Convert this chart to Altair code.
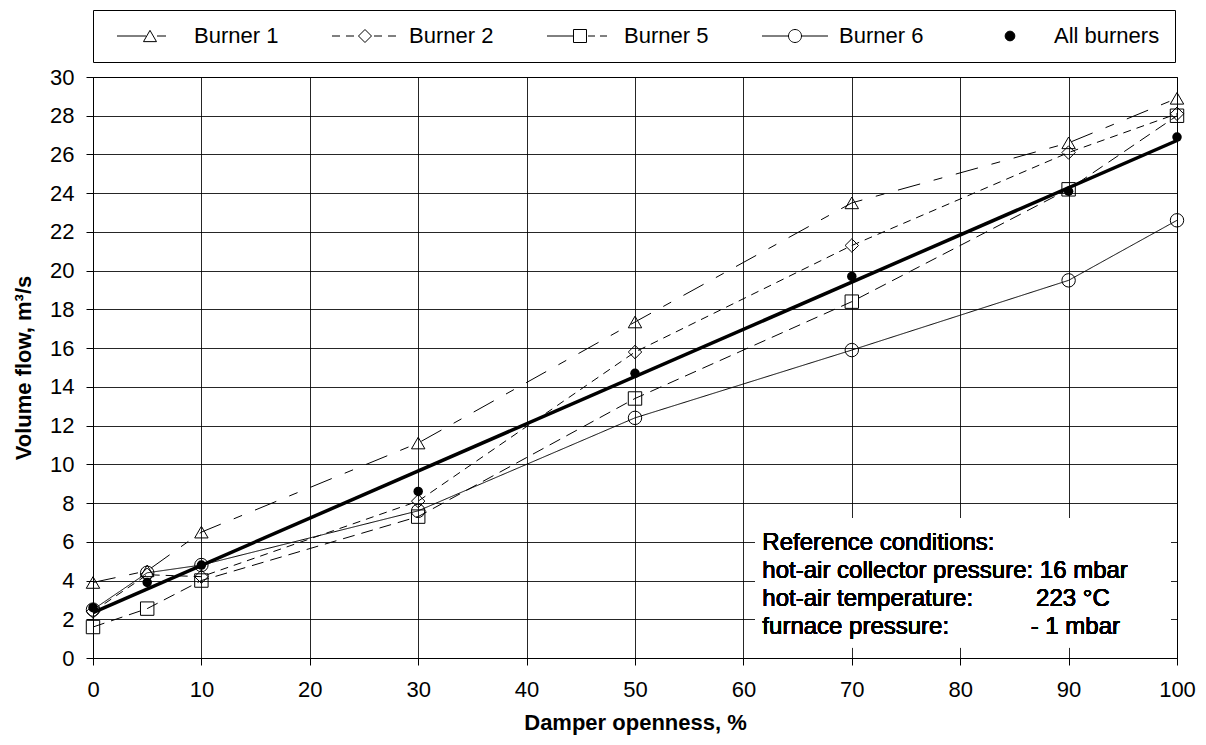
import altair as alt
import pandas as pd
import re

# ---------------- data ----------------
damper = [0, 5, 10, 30, 50, 70, 90, 100]
burner_1 = [3.9, 4.5, 6.5, 11.1, 17.35, 23.5, 26.6, 28.9]
burner_2 = [2.4, 4.3, 4.2, 8.1, 15.8, 21.3, 26.1, 28.1]
burner_5 = [1.6, 2.55, 4.0, 7.3, 13.4, 18.4, 24.2, 28.0]
burner_6 = [2.5, 4.4, 4.8, 7.6, 12.4, 15.9, 19.5, 22.6]
all_burners = [2.6, 3.9, 4.8, 8.6, 14.7, 19.7, 24.1, 26.9]

burner_names = ["Burner 1", "Burner 2", "Burner 5", "Burner 6"]
all_name = "All burners"
series_names = burner_names + [all_name]

x_ticks = list(range(0, 101, 10))
y_ticks = list(range(0, 31, 2))

FONT = "Liberation Sans"
FS = 22

rows = []
for name, vals in zip(burner_names, [burner_1, burner_2, burner_5, burner_6]):
    for d, v in zip(damper, vals):
        rows.append({"series": name, "damper": d, "flow": v})
burners_df = pd.DataFrame(rows)
all_df = pd.DataFrame({"series": all_name, "damper": damper, "flow": all_burners})

# ---------------- styles ----------------
dash_patterns = [[23, 14, 9, 14], [8, 6], [12, 7], [1, 0]]
plot_shapes = ["triangle-up", "diamond", "square", "circle"]

xs = alt.Scale(domain=[0, 100], nice=False, zero=False)
ys = alt.Scale(domain=[0, 30], nice=False, zero=False)

x_axis = alt.Axis(values=x_ticks, tickCount=len(x_ticks), grid=True, gridColor="black", gridOpacity=0.85,
                  domainColor="black", tickColor="black", tickSize=7,
                  labelFontSize=FS, labelFont=FONT, labelColor="black", labelPadding=14,
                  labelFlush=False, labelOverlap=False,
                  title="Damper openness, %", titleFont=FONT, titleFontSize=FS,
                  titleFontWeight="bold", titleColor="black", titlePadding=12)
y_axis = alt.Axis(values=y_ticks, tickCount=len(y_ticks), grid=True, gridColor="black", gridOpacity=0.85,
                  domainColor="black", tickColor="black", tickSize=7,
                  labelFontSize=FS, labelFont=FONT, labelColor="black", labelPadding=12,
                  labelFlush=False, labelOverlap=False,
                  title="Volume flow, m³/s", titleFont=FONT, titleFontSize=FS,
                  titleFontWeight="bold", titleColor="black", titlePadding=14)


def X():
    return alt.X("damper:Q", scale=xs, axis=x_axis)


def Y():
    return alt.Y("flow:Q", scale=ys, axis=y_axis)


lines = alt.Chart(burners_df).mark_line(color="black", strokeWidth=1).encode(
    x=X(), y=Y(),
    detail="series:N",
    strokeDash=alt.StrokeDash("series:N", scale=alt.Scale(domain=burner_names, range=dash_patterns), legend=None),
)

trend = alt.Chart(all_df).transform_regression(
    "damper", "flow", method="linear", extent=[0, 100]
).mark_line(color="black", strokeWidth=3.5).encode(x=X(), y=Y())

marker_layers = []
for name, shp in zip(burner_names, plot_shapes):
    marker_layers.append(
        alt.Chart(burners_df).transform_filter(alt.datum.series == name)
        .mark_point(filled=False, color="black", strokeWidth=1, size=180, opacity=1, shape=shp)
        .encode(x=X(), y=Y())
    )

dots = alt.Chart(all_df).mark_point(filled=True, color="black", size=90, opacity=1).encode(
    x=X(), y=Y())

# ---------------- annotation ----------------
box = alt.Chart(all_df).mark_rect(color="white").encode(
    x=alt.datum(61.1), x2=alt.datum(99.4), y=alt.datum(0.55), y2=alt.datum(7.2))

note_lines = ["Reference conditions:", "hot-air collector pressure: 16 mbar",
              "hot-air temperature:", "furnace pressure:"]
note_values = ["223 °C", "- 1 mbar"]
note_y = [5.96, 4.51, 3.06, 1.62]
texts = []
for t, yv in zip(note_lines, note_y):
    texts.append(alt.Chart(all_df).mark_text(align="left", baseline="middle", font=FONT, fontSize=24,
                                             color="black").encode(
        x=alt.datum(61.75), y=alt.datum(yv), text=alt.value(t)))
for t, xv, yv in zip(note_values, [87.0, 86.5], note_y[2:]):
    texts.append(alt.Chart(all_df).mark_text(align="left", baseline="middle", font=FONT, fontSize=24,
                                             color="black").encode(
        x=alt.datum(xv), y=alt.datum(yv), text=alt.value(t)))

# ---------------- legend (native legend with custom key symbols) ----------------
U = 6.5          # px per path unit (symbolSize = (2U)^2)
KEY_W = 66       # width of a legend key
KEY_L = -2       # key left end, relative to the legend symbol anchor (px)
KEY_C = KEY_L + KEY_W / 2
marker_paths = {
    "Burner 1": ("M0,-0.866L1,0.866L-1,0.866Z", 3.3),
    "Burner 2": ("M-1,0L0,-1L1,0L0,1Z", 6.5),
    "Burner 5": ("M-1,-1H1V1H-1Z", 6.5),
    "Burner 6": ("M1,0A1,1,0,1,1,-1,0A1,1,0,1,1,1,0Z", 6.5),
}
key_dashes = [[29, 11, 9, 20], [8, 6], [26, 15, 7, 5, 7, 10], [KEY_W + 1, 0]]


def shift_marker(path, dx):
    parts = re.findall(r"[MLHVAZ]|-?\d*\.?\d+", path)
    res, i = [], 0
    while i < len(parts):
        cmd = parts[i]
        res.append(cmd)
        i += 1
        if cmd in ("M", "L"):
            res.append(f"{float(parts[i]) + dx:.3f},{parts[i + 1]}")
            i += 2
        elif cmd == "H":
            res.append(f"{float(parts[i]) + dx:.3f}")
            i += 1
        elif cmd == "V":
            res.append(parts[i])
            i += 1
        elif cmd == "A":
            a = parts[i:i + 7]
            res.append(f"{a[0]},{a[1]},{a[2]},{a[3]},{a[4]},{float(a[5]) + dx:.3f},{a[6]}")
            i += 7
    return "".join(res)


def key_path(dash, marker, half_gap):
    segs = []
    pos, i = 0.0, 0
    while pos < KEY_W:
        ln = dash[i % len(dash)]
        if i % 2 == 0:
            segs.append((pos, min(pos + ln, KEY_W)))
        pos += ln
        i += 1
    parts = []
    for a, b in segs:
        a -= KEY_W / 2
        b -= KEY_W / 2
        for s, e in [(a, min(b, -half_gap)), (max(a, half_gap), b)]:
            if e - s > 0.5:
                parts.append(f"M{(s + KEY_C) / U:.3f},0H{(e + KEY_C) / U:.3f}")
    return "".join(parts) + shift_marker(marker, KEY_C / U)


legend_paths = []
for name, dash in zip(burner_names, key_dashes):
    mp, hg = marker_paths[name]
    legend_paths.append(key_path(dash, mp, hg))
dot_path = "M0.75,0A0.75,0.75,0,1,1,-0.75,0A0.75,0.75,0,1,1,0.75,0Z"
legend_paths.append(f"M{KEY_L / U:.3f},0M{(KEY_L + KEY_W) / U:.3f},0" + shift_marker(dot_path, KEY_C / U))

legend_fills = ["transparent"] * 4 + ["black"]

SYM_SIZE_PX = 14  # ceil(sqrt(symbolSize) + strokeWidth)
leg = alt.Legend(title=None, orient="none", legendX=0, legendY=-67, direction="horizontal",
                 columns=5, symbolSize=169, symbolStrokeWidth=1, symbolStrokeColor="black",
                 symbolOpacity=1, labelFont=FONT, labelFontSize=FS, labelColor="black",
                 labelOffset=SYM_SIZE_PX / 2 + KEY_C + 40 - SYM_SIZE_PX, columnPadding=44, padding=15,
                 fillColor="white", strokeColor="black")

legend_df = pd.DataFrame({"key": series_names})
legend_layer = alt.Chart(legend_df).mark_point(filled=True, opacity=0, strokeWidth=1).encode(
    shape=alt.Shape("key:N", scale=alt.Scale(domain=series_names, range=legend_paths), legend=leg),
    fill=alt.Fill("key:N", scale=alt.Scale(domain=series_names, range=legend_fills), legend=leg),
    stroke=alt.Stroke("key:N", scale=alt.Scale(domain=series_names, range=["black"] * 5), legend=leg),
)

chart = alt.layer(lines, trend, *marker_layers, dots, box, *texts, legend_layer).properties(
    width=1084, height=581,
    padding={"left": 85, "top": 69, "right": 20, "bottom": 79},
    autosize=alt.AutoSizeParams(type="none"),
).configure_view(stroke="black", strokeWidth=1)

chart.save("out.html", embed_options={"renderer": "svg", "actions": False})
